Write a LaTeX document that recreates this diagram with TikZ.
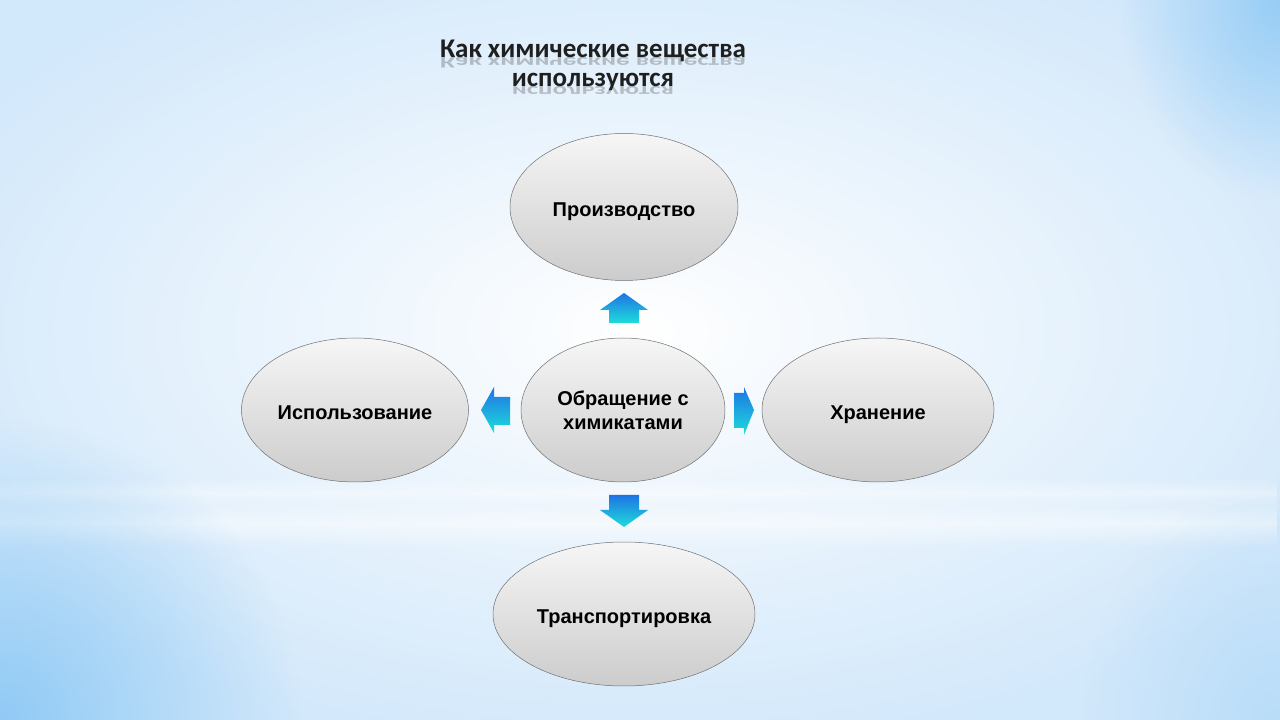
\documentclass[tikz,border=0pt]{standalone}
\usepackage{fontspec}
\setmainfont{Liberation Sans}
\newfontfamily\headingfont{Carlito}
\usetikzlibrary{shapes.geometric,fadings}

\definecolor{skyblue}{HTML}{D2E8FB}
\definecolor{deepsky}{HTML}{90CAF5}
\definecolor{bluetop}{HTML}{1E74E4}
\definecolor{cyanbottom}{HTML}{1EDCDA}
\definecolor{rimgray}{HTML}{707070}
\tikzfading[name=glow, inner color=transparent!0, outer color=transparent!100]
\tikzfading[name=band, top color=transparent!100, bottom color=transparent!100, middle color=transparent!0]

\begin{document}
\begin{tikzpicture}[x=1pt, y=1pt,
    stage/.style={ellipse, draw=rimgray, line width=0.5pt, top color=gray!7, bottom color=gray!40,
      font=\fontsize{20}{24}\selectfont\bfseries, align=center, inner sep=0pt},
    oneline/.style={text height=20, text depth=1},
    pointer/.style={top color=bluetop, bottom color=cyanbottom},
    heading/.style={font=\headingfont\bfseries\fontsize{27}{30}\selectfont, text=black!88, anchor=base, inner sep=0pt}]
        \useasboundingbox (0,0) rectangle (1280,720);
        \fill[skyblue] (0,0) rectangle (1280,720);
        \fill[white, path fading=glow] (-150,-40) rectangle (1430,820);
        \fill[white, opacity=.5, path fading=band] (0,172) rectangle (1280,222);
        \fill[white, opacity=.4, path fading=band] (0,212) rectangle (1280,242);
        \fill[deepsky, path fading=glow] (-300,-300) rectangle (300,300);
        \fill[deepsky, opacity=.9, path fading=glow] (1120,520) rectangle (1440,920);
        \fill[deepsky, opacity=.4, path fading=glow] (1080,-260) rectangle (1480,240);

        \node[heading] (titletop) at (593,662) {Как химические вещества};
        \node[heading] (titlebottom) at (593,633) {используются};
        \begin{scope}[shift={(593,662)}, yscale=-0.6]
            \node[heading, transform shape, opacity=.25] (titletopmirror) at (0,0) {Как химические вещества};
        \end{scope}
        \begin{scope}[shift={(593,633)}, yscale=-0.6]
            \node[heading, transform shape, opacity=.25] (titlebottommirror) at (0,0) {используются};
        \end{scope}

        \node[stage, minimum width=204, minimum height=144] (hub) at (623,310) {Обращение с\\химикатами};
        \node[stage, oneline, minimum width=228, minimum height=147] (production) at (624,513) {Производство};
        \node[stage, oneline, minimum width=262, minimum height=144] (transport) at (624,106) {Транспортировка};
        \node[stage, oneline, minimum width=227, minimum height=144] (usage) at (355,310) {Использование};
        \node[stage, oneline, minimum width=232, minimum height=144] (storage) at (878,310) {Хранение};

        % block arrows round the hub
        \shade[pointer] (609,397) -- (609,410) -- (600,410) -- (624,427) -- (648,410) -- (639,410) -- (639,397) -- cycle;
        \shade[pointer] (609,225) -- (639,225) -- (639,210) -- (648,210) -- (624,193) -- (600,210) -- (609,210) -- cycle;
        \shade[pointer] (510,323) -- (494,323) -- (494,333) -- (481,310) -- (494,287) -- (494,295) -- (510,295) -- cycle;
        \shade[pointer] (734,327) -- (744,327) -- (744,333) -- (754,310) -- (744,285) -- (744,292) -- (734,292) -- cycle;
    \end{tikzpicture}
\end{document}
